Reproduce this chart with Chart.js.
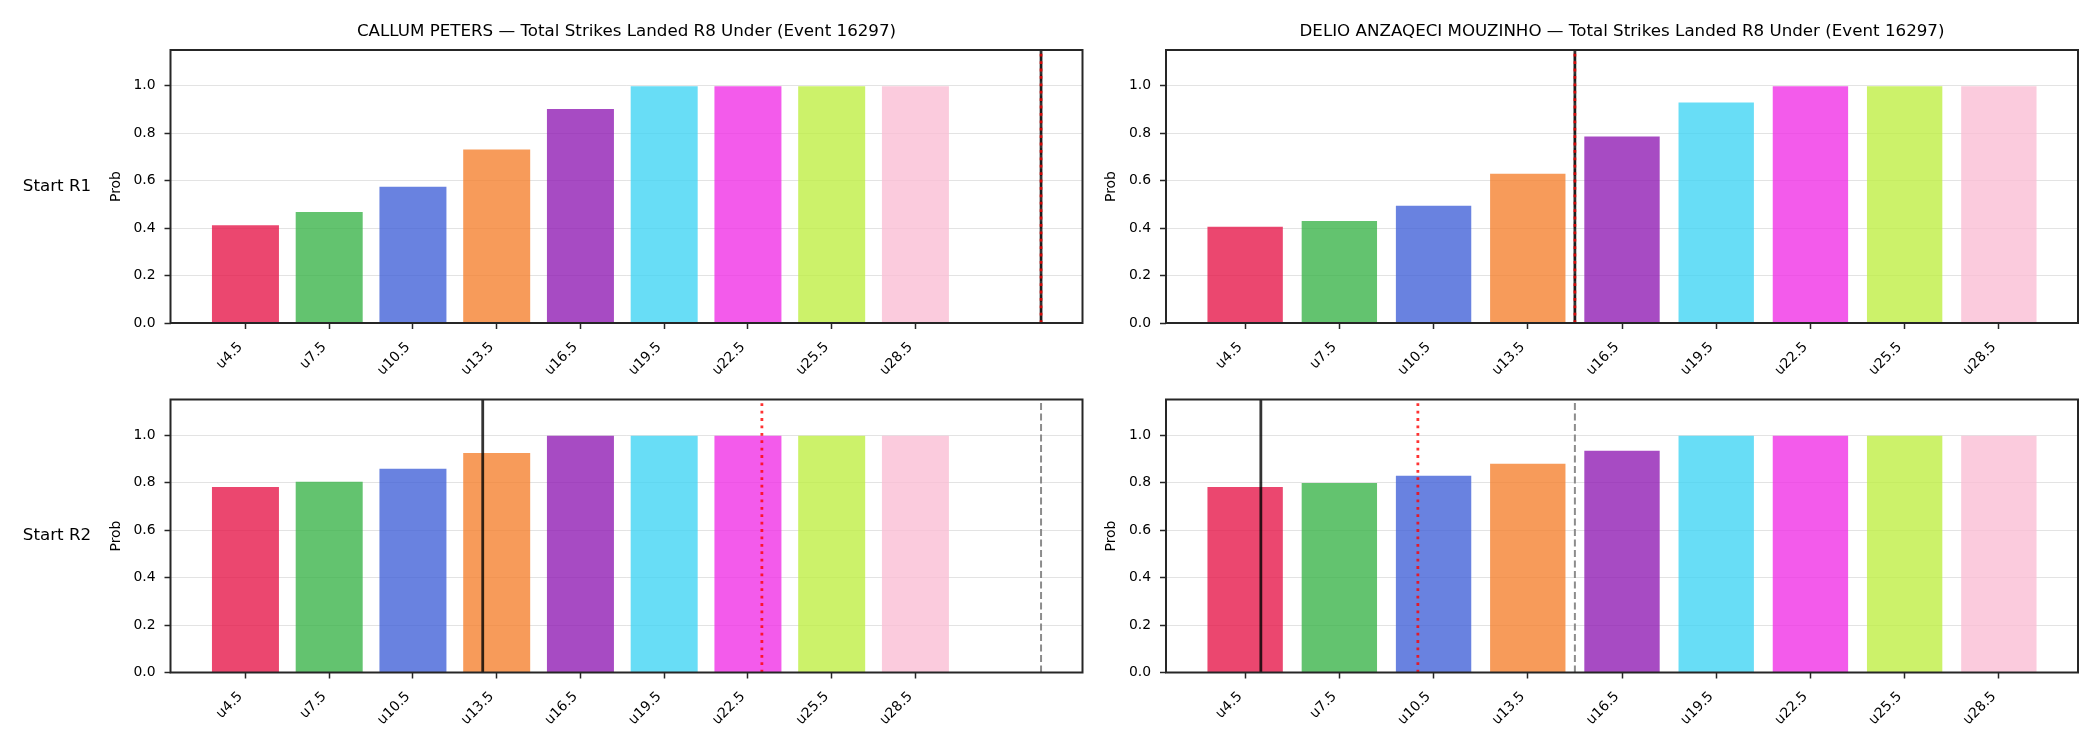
<!DOCTYPE html>
<html><head><meta charset="utf-8">
<script src="https://cdn.jsdelivr.net/npm/chart.js@4.4.1/dist/chart.umd.min.js"></script>
<style>
html,body{margin:0;padding:0;background:#fff;width:2100px;height:750px;overflow:hidden}
canvas{position:absolute;display:block}
</style></head><body>
<canvas id="c1" width="1100" height="390" style="left:0;top:0"></canvas>
<canvas id="c2" width="1000" height="390" style="left:1100px;top:0"></canvas>
<canvas id="c3" width="1100" height="380" style="left:0;top:370px"></canvas>
<canvas id="c4" width="1000" height="380" style="left:1100px;top:370px"></canvas>
<script>
// ---- data ----
const LINES = [4.5, 7.5, 10.5, 13.5, 16.5, 19.5, 22.5, 25.5, 28.5];
const LABELS = ['u4.5', 'u7.5', 'u10.5', 'u13.5', 'u16.5', 'u19.5', 'u22.5', 'u25.5', 'u28.5'];
const Y_TICKS = [0.0, 0.2, 0.4, 0.6, 0.8, 1.0];
const BAR_COLORS = ['rgba(230,25,75,0.8)', 'rgba(60,180,75,0.8)', 'rgba(67,99,216,0.8)', 'rgba(245,130,49,0.8)',
  'rgba(145,30,180,0.8)', 'rgba(66,212,244,0.8)', 'rgba(240,50,230,0.8)', 'rgba(191,239,69,0.8)', 'rgba(250,190,212,0.8)'];

const CALLUM_R1 = [0.412, 0.468, 0.574, 0.731, 0.901, 0.997, 0.997, 0.997, 0.997];
const DELIO_R1  = [0.405, 0.430, 0.494, 0.629, 0.786, 0.929, 0.997, 0.997, 0.997];
const CALLUM_R2 = [0.781, 0.803, 0.858, 0.925, 0.997, 0.997, 0.997, 0.997, 0.997];
const DELIO_R2  = [0.781, 0.798, 0.829, 0.879, 0.934, 0.997, 0.997, 0.997, 0.997];

// vertical markers (strikes): [line (grey dashed), current (black), projected (red dotted)]
const CALLUM_R1_MARKS = [33, 33, 33];
const DELIO_R1_MARKS  = [15, 15, 15];
const CALLUM_R2_MARKS = [33, 13, 23];
const DELIO_R2_MARKS  = [15, 5, 10];

const TITLE_CALLUM = 'CALLUM PETERS — Total Strikes Landed R8 Under (Event 16297)';
const TITLE_DELIO = 'DELIO ANZAQECI MOUZINHO — Total Strikes Landed R8 Under (Event 16297)';
const ROW_LABELS = ['Start R1', 'Start R2'];
const Y_LABEL = 'Prob';

// ---- drawing ----
const FONT = "'DejaVu Sans', sans-serif";
const decor = {
  id: 'decor',
  afterDraw(chart) {
    const o = chart.options.plugins.decor;
    const a = chart.chartArea, ctx = chart.ctx, xs = chart.scales.x;
    ctx.save();
    ctx.beginPath(); ctx.rect(a.left, a.top, a.right - a.left, a.bottom - a.top); ctx.clip();
    const drawV = (v, color, w, dash) => {
      const px = xs.getPixelForValue(v);
      ctx.beginPath(); ctx.strokeStyle = color; ctx.lineWidth = w; ctx.setLineDash(dash); ctx.lineCap = 'butt';
      ctx.moveTo(px, a.bottom); ctx.lineTo(px, a.top); ctx.stroke();
    };
    drawV(o.marks[0], 'rgba(128,128,128,0.9)', 2, [7, 3.5]);
    drawV(o.marks[1], 'rgba(0,0,0,0.8)', 2.8, []);
    drawV(o.marks[2], 'rgba(255,0,0,0.8)', 2.8, [2.8, 4.6]);
    ctx.restore();
    ctx.save();
    ctx.setLineDash([]);
    ctx.strokeStyle = '#262626'; ctx.lineWidth = 2;
    ctx.strokeRect(a.left, a.top, a.right - a.left, a.bottom - a.top);
    ctx.fillStyle = '#000';
    if (o.title) {
      ctx.font = '16.7px ' + FONT; ctx.textAlign = 'center'; ctx.textBaseline = 'alphabetic';
      ctx.fillText(o.title, (a.left + a.right) / 2, a.top - 14);
    }
    const midY = (a.top + a.bottom) / 2;
    if (o.rowLabel) {
      ctx.font = '16.7px ' + FONT; ctx.textAlign = 'center'; ctx.textBaseline = 'middle';
      ctx.fillText(o.rowLabel, 57, midY);
    }
    ctx.save();
    ctx.translate(a.left - 54.5, midY); ctx.rotate(-Math.PI / 2);
    ctx.font = '13.9px ' + FONT; ctx.textAlign = 'center'; ctx.textBaseline = 'middle';
    ctx.fillText(Y_LABEL, 0, 0);
    ctx.restore();
    ctx.restore();
  }
};

function makeChart(id, values, marks, title, rowLabel, lay) {
  const lo = LINES[0] - 1.2;
  const hi = Math.max(LINES[LINES.length - 1] + 1.2, ...marks);
  const m = 0.05 * (hi - lo);
  const plotH = 273;
  const xH = lay.h - lay.top - plotH;
  return new Chart(document.getElementById(id), {
    type: 'bar',
    data: {
      datasets: [{
        data: LINES.map((x, i) => ({ x, y: values[i] })),
        backgroundColor: BAR_COLORS,
        borderWidth: 0,
        categoryPercentage: 1.0,
        barPercentage: 0.8
      }]
    },
    options: {
      responsive: false,
      animation: false,
      events: [],
      layout: { padding: { left: 0, top: lay.top, right: lay.right, bottom: 0 } },
      plugins: { legend: { display: false }, tooltip: { enabled: false }, title: { display: false },
        decor: { marks, title, rowLabel } },
      scales: {
        x: {
          type: 'linear', offset: false, min: lo - m, max: hi + m, z: 1,
          afterBuildTicks: s => { s.ticks = LINES.map(v => ({ value: v })); },
          afterFit: s => { s.height = xH; },
          border: { display: false },
          grid: { display: true, drawOnChartArea: false, drawTicks: true, tickLength: 6, tickColor: '#262626', tickWidth: 1.5, offset: false },
          ticks: { autoSkip: false, minRotation: 45, maxRotation: 45, padding: 10, labelOffset: -5, color: '#000',
            font: { family: FONT, size: 13.9 }, callback: (v, i) => LABELS[i] }
        },
        y: {
          type: 'linear', min: 0, max: 1.15, z: 1,
          afterBuildTicks: s => { s.ticks = Y_TICKS.map(v => ({ value: v })); },
          afterFit: s => { s.width = lay.yW; },
          border: { display: false },
          grid: { color: 'rgba(176,176,176,0.35)', lineWidth: 1, drawTicks: true, tickLength: 6, tickColor: '#262626', tickWidth: 1.5 },
          ticks: { padding: 9, color: '#000', font: { family: FONT, size: 13.9 }, callback: v => v.toFixed(1) }
        }
      }
    },
    plugins: [decor]
  });
}

makeChart('c1', CALLUM_R1, CALLUM_R1_MARKS, TITLE_CALLUM, ROW_LABELS[0], { h: 390, top: 50, right: 17.5, yW: 170.5 });
makeChart('c2', DELIO_R1, DELIO_R1_MARKS, TITLE_DELIO, null, { h: 390, top: 50, right: 22, yW: 66 });
makeChart('c3', CALLUM_R2, CALLUM_R2_MARKS, null, ROW_LABELS[1], { h: 380, top: 29.5, right: 17.5, yW: 170.5 });
makeChart('c4', DELIO_R2, DELIO_R2_MARKS, null, null, { h: 380, top: 29.5, right: 22, yW: 66 });
</script>
</body></html>
